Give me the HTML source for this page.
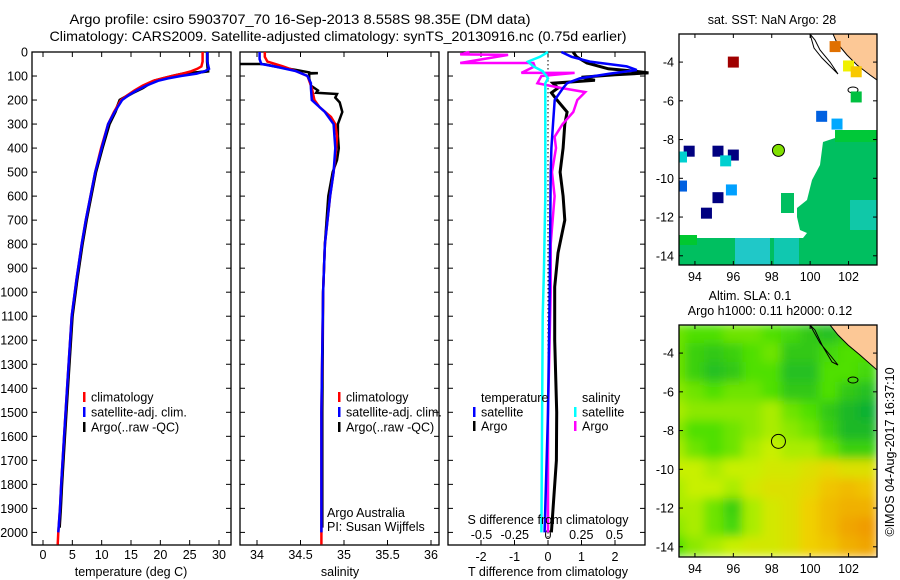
<!DOCTYPE html>
<html><head><meta charset="utf-8">
<style>
html,body{margin:0;padding:0;background:#fff;}
svg{display:block;font-family:"Liberation Sans",sans-serif;}
text{font-size:12.5px;fill:#000;}
</style></head>
<body>
<svg id="c" width="900" height="580" viewBox="0 0 900 580" xmlns="http://www.w3.org/2000/svg">
<text x="300" y="24" text-anchor="middle" textLength="461" lengthAdjust="spacingAndGlyphs" style="font-size:14px">Argo profile: csiro 5903707_70 16-Sep-2013 8.558S 98.35E (DM data)</text>
<text x="338" y="41" text-anchor="middle" textLength="577" lengthAdjust="spacingAndGlyphs" style="font-size:14px">Climatology: CARS2009. Satellite-adjusted climatology: synTS_20130916.nc (0.75d earlier)</text>
<g id="g"></g>
</svg>
<script>
// ---- depth-profile data ----
const depthTicks=[0,100,200,300,400,500,600,700,800,900,1000,1100,1200,1300,1400,1500,1600,1700,1800,1900,2000];
const tempTicks=[0,5,10,15,20,25,30];
const salTicks=[34,34.5,35,35.5,36];
const salTickLabels=["34","34.5","35","35.5","36"];
const tdiffTicks=[-2,-1,0,1,2];
const sdiffTicks=[-0.5,-0.25,0,0.25,0.5];
const sdiffTickLabels=["-0.5","-0.25","0","0.25","0.5"];

const tClimDepth=[0,40,60,70,80,90,100,110,120,140,160,180,200,250,300,400,500,600,700,800,950,1100,1365,1600,1800,1900,2000,2050];
const tClim=[27.2,27.2,27.0,26.3,25.3,23.8,22.0,20.3,18.8,17.0,15.6,14.4,13.3,12.1,11.1,9.9,8.9,8.1,7.3,6.6,5.7,4.9,4.2,3.6,3.1,2.9,2.6,2.5];
const tSatDepth=[0,40,60,70,80,90,100,110,120,140,160,180,200,250,300,400,500,600,700,800,950,1100,1365,1600,1800,1900,2000];
const tSat=[28.0,28.0,28.2,28.3,27.6,26.2,23.5,21.3,19.6,17.6,16.0,14.6,13.5,12.2,11.1,10.0,8.9,8.1,7.3,6.6,5.7,4.9,4.2,3.6,3.1,2.9,2.6];
const tArgoDepth=[0,40,70,80,85,90,100,110,120,140,150,170,200,250,300,400,500,600,700,800,950,1100,1365,1600,1800,1900,1980];
const tArgo=[28.0,28.0,28.1,28.1,26.5,24.0,22.2,20.5,19.0,17.6,17.0,15.3,13.1,12.3,11.3,10.1,9.0,8.2,7.4,6.7,5.8,5.0,4.3,3.7,3.2,3.0,2.8];

const sClimDepth=[0,20,40,60,80,100,150,200,230,270,300,350,400,500,600,800,1000,1500,2050];
const sClim=[34.09,34.09,34.12,34.3,34.45,34.58,34.63,34.66,34.72,34.85,34.9,34.92,34.91,34.88,34.84,34.78,34.76,34.74,34.74];
const sSatDepth=[0,30,50,60,80,100,130,150,200,250,300,400,500,600,800,1000,1500,2000];
const sSat=[34.03,34.03,34.05,34.2,34.45,34.58,34.62,34.62,34.63,34.78,34.88,34.9,34.88,34.84,34.78,34.76,34.74,34.74];
const sArgoDepth=[50,50,52,60,75,85,88,88,90,110,140,160,170,175,190,210,250,300,350,400,450,500,600,800,1000,1500,1980];
const sArgo=[33.8,34.05,34.1,34.2,34.45,34.6,34.6,34.7,34.6,34.6,34.62,34.7,34.68,34.92,34.9,34.95,34.98,34.93,34.93,34.94,34.92,34.87,34.82,34.78,34.76,34.75,34.75];

const dSatTDepth=[0,20,40,60,75,90,110,130,150,200,300,400,500,1000,1500,2000];
const dSatT=[0.4,0.7,1.25,2.35,2.65,1.85,0.95,0.57,0.45,0.2,0.15,0.1,0.08,0.05,0.0,-0.1];
const dArgoTDepth=[0,20,46,70,80,87,95,105,118,130,150,170,200,250,300,400,500,600,700,837,978,1200,1500,1700,2000];
const dArgoT=[0.75,0.85,1.16,1.8,2.6,3.0,2.0,1.0,1.4,0.15,0.3,0.1,0.27,0.57,0.5,0.45,0.36,0.45,0.5,0.3,0.2,0.2,0.26,0.25,0.1];
const dSatSDepth=[0,20,40,60,80,110,130,150,200,400,600,900,1100,2000];
const dSatS=[0.0,-0.06,-0.15,-0.11,-0.04,0.0,-0.02,-0.02,-0.02,-0.02,-0.02,-0.03,-0.04,-0.05];
const dArgoSDepth=[0,10,12,46,46,60,87,87,100,130,150,167,200,250,300,353,400,500,600,800,1000,1500,2000];
const dArgoS=[-0.59,-0.66,-0.3,-0.66,-0.11,-0.1,-0.2,0.2,-0.05,-0.08,0.1,0.28,0.22,0.19,0.11,0.05,0.06,0.03,0.05,0.02,0.02,0.0,0.0];

// ---- map data ----
const slaLons=[93,94,95,96,97,98,99,100,101,102,103];
const slaLats=[-3,-4,-5,-6,-7,-8,-9,-10,-11,-12,-13,-14];
const slaVals=[
[0.35,0.3,0.3,0.35,0.35,0.3,0.25,0.15,0.1,0.2,0.25],
[0.35,0.2,0.15,0.2,0.3,0.35,0.15,0.15,0.25,0.3,0.3],
[0.35,0.2,0.1,0.15,0.3,0.3,0.1,0.1,0.3,0.3,0.25],
[0.4,0.35,0.3,0.35,0.35,0.3,0.15,0.15,0.3,0.15,0.1],
[0.45,0.4,0.4,0.4,0.4,0.45,0.35,0.3,0.15,0.05,0.0],
[0.4,0.3,0.3,0.35,0.4,0.45,0.4,0.35,0.2,0.05,0.05],
[0.45,0.35,0.3,0.35,0.45,0.5,0.45,0.45,0.35,0.2,0.2],
[0.5,0.5,0.45,0.5,0.5,0.55,0.55,0.6,0.65,0.6,0.6],
[0.45,0.5,0.5,0.45,0.55,0.6,0.6,0.65,0.75,0.8,0.75],
[0.45,0.45,0.35,0.2,0.45,0.55,0.6,0.7,0.8,0.85,0.85],
[0.4,0.45,0.35,0.25,0.45,0.55,0.6,0.7,0.8,0.9,0.95],
[0.3,0.4,0.45,0.5,0.55,0.55,0.6,0.7,0.75,0.85,0.9]];
const sstLon=[96.0,101.3,102.0,102.4,102.4,100.6,101.4,93.7,95.2,96.0,93.3,95.6,93.3,95.9,95.2,94.6];
const sstLat=[-4.0,-3.2,-4.2,-4.5,-5.8,-6.8,-7.2,-8.6,-8.6,-8.8,-8.9,-9.1,-10.4,-10.6,-11.0,-11.8];
const sstCol=["#a00000","#e07000","#f0f000","#f8c800","#00c040","#0060e0","#00a8ff","#000080","#000080","#000080","#00d0d0","#00d0d0","#0060e0","#00a0ff","#000080","#000080"];
const argoLon=[98.35], argoLat=[-8.558];
const lonTicks=[94,96,98,100,102];
const latTicks=[-4,-6,-8,-10,-12,-14];

const NS="http://www.w3.org/2000/svg";
const G=document.getElementById('g');
function el(tag,attrs,parent){const e=document.createElementNS(NS,tag);for(const k in attrs)e.setAttribute(k,attrs[k]);(parent||G).appendChild(e);return e;}
function txt(x,y,s,anchor,parent){const t=el('text',{x:x,y:y,'text-anchor':anchor||'start'},parent);t.textContent=s;return t;}

const yTop=52,yBot=545;
const yD=d=>yTop+d*0.2402;
const xT=t=>43+t*5.867;
const xS=s=>257+(s-34)*87;
const xTd=d=>548+d*33.5;
const xSd=d=>548+d*133;

function panel(x0,x1,name){
  const r=el('rect',{x:x0,y:yTop,width:x1-x0,height:yBot-yTop,fill:'none',stroke:'#000','stroke-width':1.3});
  
  
  depthTicks.forEach(d=>{el('line',{x1:x0,x2:x0+5,y1:yD(d),y2:yD(d),stroke:'#000'});el('line',{x1:x1-5,x2:x1,y1:yD(d),y2:yD(d),stroke:'#000'});});
}
function line(ds,vs,fx,col,w,name){
  const pts=ds.map((d,i)=>fx(vs[i]).toFixed(1)+','+yD(d).toFixed(1)).join(' ');
  const p=el('polyline',{points:pts,fill:'none',stroke:col,'stroke-width':w,'stroke-linejoin':'miter'});
  
  
}
function xticks(ticks,labels,fx,ty){
  ticks.forEach((t,i)=>{const x=fx(t);el('line',{x1:x,x2:x,y1:yBot,y2:yBot-5,stroke:'#000'});el('line',{x1:x,x2:x,y1:yTop,y2:yTop+5,stroke:'#000'});
    const l=txt(x,ty,labels[i],'middle');});
}
function legend(x,y,col,s){el('rect',{x:x,y:y-5,width:2.5,height:10,fill:col});const t=txt(x+8,y+4.5,s);}

// Panel 1 temperature
panel(32,231,'temperature-panel');
depthTicks.forEach(d=>{const t=txt(28,yD(d)+4.5,String(d),'end');});
xticks(tempTicks,tempTicks.map(String),xT,559);
line(tArgoDepth,tArgo,xT,'#000',3,'temp-argo-line');
line(tClimDepth,tClim,xT,'#f00',2.5,'temp-climatology-line');
line(tSatDepth,tSat,xT,'#00f',2.5,'temp-satellite-line');
legend(83,397,'#f00','climatology');legend(83,412,'#00f','satellite-adj. clim.');legend(83,427,'#000','Argo(..raw -QC)');
{const t=txt(131,576,'temperature (deg C)','middle');}

// Panel 2 salinity
panel(240,439,'salinity-panel');
xticks(salTicks,salTickLabels,xS,559);
line(sArgoDepth,sArgo,xS,'#000',2.5,'sal-argo-line');
line(sClimDepth,sClim,xS,'#f00',2.5,'sal-climatology-line');
line(sSatDepth,sSat,xS,'#00f',2.5,'sal-satellite-line');
legend(338,397,'#f00','climatology');legend(338,412,'#00f','satellite-adj. clim.');legend(338,427,'#000','Argo(..raw -QC)');
{const t=txt(340,576,'salinity','middle');}
{const t=txt(327,517,'Argo Australia');}
{const t=txt(327,531,'PI: Susan Wijffels');}

// Panel 3 differences
panel(448,645,'difference-panel');
el('line',{x1:548,x2:548,y1:yTop,y2:yBot,stroke:'#000','stroke-dasharray':'1.5,2.5'});
tdiffTicks.forEach(t=>{const x=xTd(t);el('line',{x1:x,x2:x,y1:yBot,y2:yBot-5,stroke:'#000'});el('line',{x1:x,x2:x,y1:yTop,y2:yTop+5,stroke:'#000'});const l=txt(x,561,String(t),'middle');});
sdiffTicks.forEach((t,i)=>{const l=txt(xSd(t),539,sdiffTickLabels[i],'middle');});
line(dArgoTDepth,dArgoT,xTd,'#000',3,'tdiff-argo-line');
line(dArgoSDepth,dArgoS,xSd,'#f0f',2.5,'sdiff-argo-line');
line(dSatTDepth,dSatT,xTd,'#00f',2.5,'tdiff-satellite-line');
line(dSatSDepth,dSatS,xSd,'#0ff',2.5,'sdiff-satellite-line');
{const t=txt(548,524,'S difference from climatology','middle');}
{const t=txt(548,576,'T difference from climatology','middle');}
{const t=txt(481,402,'temperature');}
{const t=txt(582,402,'salinity');}
legend(473,412,'#00f','satellite');legend(473,426,'#000','Argo');legend(574,412,'#0ff','satellite');legend(574,426,'#f0f','Argo');

// Maps
const mx0=679,mx1=877;
const mX=lon=>mx0+(lon-93.17)*19.2;
function mapFrame(top,bot,name){
  const mY=lat=>top+(-2.55-lat)*19.37;
  lonTicks.forEach(l=>{el('line',{x1:mX(l),x2:mX(l),y1:bot,y2:bot-4,stroke:'#000'});el('line',{x1:mX(l),x2:mX(l),y1:top,y2:top+4,stroke:'#000'});const t=txt(mX(l),bot+16,String(l),'middle');});
  latTicks.forEach(l=>{el('line',{x1:mx0,x2:mx0+4,y1:mY(l),y2:mY(l),stroke:'#000'});el('line',{x1:mx1-4,x2:mx1,y1:mY(l),y2:mY(l),stroke:'#000'});const t=txt(mx0-5,mY(l)+4.5,String(l),'end');});
  const r=el('rect',{x:mx0,y:top,width:mx1-mx0,height:bot-top,fill:'none',stroke:'#000','stroke-width':1.3});
  
  
  return mY;
}
const defs=el('defs',{});
const cp1=el('clipPath',{id:'cp1'},defs);el('rect',{x:mx0,y:34,width:mx1-mx0,height:231},cp1);
const cp2=el('clipPath',{id:'cp2'},defs);el('rect',{x:mx0,y:325,width:mx1-mx0,height:232},cp2);
const fl=el('filter',{id:'bl',x:'-5%',y:'-5%',width:'110%',height:'110%'},defs);el('feGaussianBlur',{stdDeviation:5},fl);

// Map 1 (SST)
{
  const top=34,bot=265;const mY=lat=>top+(-2.55-lat)*19.37;
  const g1=el('g',{'clip-path':'url(#cp1)'});
  const gr=el('polygon',{points:'877,130 853,130 850,137 835,138 823,142 820,165 812,180 807,200 797,208 797,217 800,230 807,233 803,238 697,238 697,235 679,235 679,265 877,265',fill:'#00bf60'},g1);
  
  el('rect',{x:781,y:193,width:13,height:20,fill:'#00bf60'},g1);
  el('rect',{x:835,y:130,width:42,height:12,fill:'#00c838'},g1);
  el('rect',{x:679,y:235,width:18,height:10,fill:'#00c830'},g1);
  el('rect',{x:735,y:238,width:35,height:27,fill:'#20c8c8'},g1);
  el('rect',{x:774,y:238,width:25,height:27,fill:'#10c8b0'},g1);
  el('rect',{x:850,y:200,width:27,height:30,fill:'#10c8a8'},g1);
  el('polygon',{points:'833,34 877,34 877,80 870,75 857,65 847,55 837,43',fill:'#fcc896',stroke:'#000','stroke-width':1},g1);
  el('polygon',{points:'810,34 815,40 820,50 830,62 838,74 832,68 822,58 814,48',fill:'#fff',stroke:'#000','stroke-width':1},g1);
  el('ellipse',{cx:853,cy:90,rx:5,ry:3,fill:'none',stroke:'#000'},g1);
  sstLon.forEach((lon,i)=>{
    const s=el('rect',{x:mX(lon)-5.5,y:mY(sstLat[i])-5.5,width:11,height:11,fill:sstCol[i]},g1);
    
    
  });
  const c=el('circle',{cx:mX(argoLon[0]),cy:mY(argoLat[0]),r:6,fill:'#80e000',stroke:'#000'},g1);
  
  mapFrame(top,bot,'sst-map');
  const t=txt(772,24,'sat. SST: NaN Argo: 28','middle');
}
// Map 2 (SLA)
function slaColor(v){
  const stops=[[0,[16,176,48]],[0.3,[80,224,0]],[0.5,[200,240,0]],[0.7,[240,208,0]],[1,[240,144,0]]];
  for(let i=1;i<stops.length;i++){if(v<=stops[i][0]){const a=stops[i-1],b=stops[i],f=(v-a[0])/(b[0]-a[0]);return 'rgb('+a[1].map((c,k)=>Math.round(c+(b[1][k]-c)*f)).join(',')+')';}}
  return 'rgb(240,144,0)';
}
{
  const top=325,bot=557;const mY=lat=>top+(-2.55-lat)*19.37;
  const g2=el('g',{'clip-path':'url(#cp2)'});
  const gb=el('g',{filter:'url(#bl)'},g2);
  slaLats.forEach((lat,r)=>slaLons.forEach((lon,c)=>{
    const cell=el('rect',{x:mX(lon-0.5)-0.5,y:mY(lat+0.5)-0.5,width:20.2,height:20.4,fill:slaColor(slaVals[r][c])},gb);
    
    
  }));
  el('polygon',{points:'830,325 877,325 877,370 860,355 848,345 838,335',fill:'#fcc896',stroke:'#000','stroke-width':1},g2);
  el('polygon',{points:'810,325 815,330 822,345 832,362 838,365 830,355 820,343',fill:'none',stroke:'#000','stroke-width':1},g2);
  el('ellipse',{cx:853,cy:380,rx:5,ry:3,fill:'none',stroke:'#000'},g2);
  const c=el('circle',{cx:mX(argoLon[0]),cy:mY(argoLat[0]),r:7,fill:'none',stroke:'#000'},g2);
  
  mapFrame(top,bot,'sla-map');
  const t1=txt(750,300,'Altim. SLA: 0.1','middle');
  const t2=txt(770,315,'Argo h1000: 0.11 h2000: 0.12','middle');
}
const st=txt(0,0,'©IMOS 04-Aug-2017 16:37:10','middle');
st.setAttribute('transform','translate(894,452) rotate(-90)');


</script>
</body></html>
